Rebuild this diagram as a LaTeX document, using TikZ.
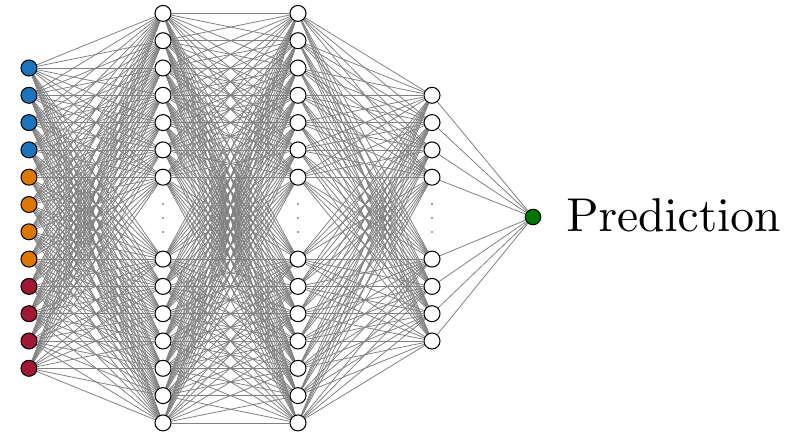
\documentclass[tikz,border=0pt]{standalone}
\usetikzlibrary{backgrounds}
\definecolor{inblue}{RGB}{28,117,188}
\definecolor{inorange}{RGB}{221,119,0}
\definecolor{inred}{RGB}{160,24,50}
\definecolor{outgreen}{RGB}{0,120,0}
\font\predfont=cmr10 at 27pt
\tikzset{
	neuron/.style={circle, draw=black, line width=0.6pt, fill=white, minimum size=0.32cm, inner sep=0pt},
	link/.style={draw=gray, line width=0.45pt},
}
\begin{document}
\begin{tikzpicture}[x=0.02cm, y=-0.02cm]
				\useasboundingbox (0,0) rectangle (792,434);
				%input layer
				\foreach \i/\c in {1/inblue, 2/inblue, 3/inblue, 4/inblue, 5/inorange, 6/inorange, 7/inorange, 8/inorange, 9/inred, 10/inred, 11/inred, 12/inred}{
					\node[neuron, fill=\c] (in\i) at (29, {68+27.3*(\i-1)}){};
				}
				
				%hidden layers
				\foreach \j in {1,...,14}{
					\pgfmathsetmacro{\k}{ifthenelse(\j<8, \j-3, \j-1)}
					\node[neuron] (ha\j) at (163, {68+27.3*\k}){};
					\node[neuron] (hb\j) at (298, {68+27.3*\k}){};
				}
				\foreach \j in {1,...,8}{
					\pgfmathsetmacro{\k}{ifthenelse(\j<5, \j, \j+2)}
					\node[neuron] (hc\j) at (432, {68+27.3*\k}){};
				}
				\foreach \x in {163, 298, 432}{
					\foreach \y in {204, 218, 232}{
						\fill[black!75] (\x, \y) circle (0.5pt);
					}
				}
				
				%output
				\node[neuron, fill=outgreen, minimum size=0.31cm] (out) at (533, 217){};
				\node[anchor=west, inner sep=0pt, font=\predfont] (pred) at (566, 215){Prediction};
				
				%connections
				\begin{scope}[on background layer]
					\foreach \a in {1,...,12}{
						\foreach \b in {1,...,14}{
							\draw[link] (in\a) -- (ha\b);
						}
					}
					\foreach \a in {1,...,14}{
						\foreach \b in {1,...,14}{
							\draw[link] (ha\a) -- (hb\b);
						}
						\foreach \b in {1,...,8}{
							\draw[link] (hb\a) -- (hc\b);
						}
					}
					\foreach \a in {1,...,8}{
						\draw[link] (hc\a) -- (out);
					}
				\end{scope}
			\end{tikzpicture}
\end{document}
